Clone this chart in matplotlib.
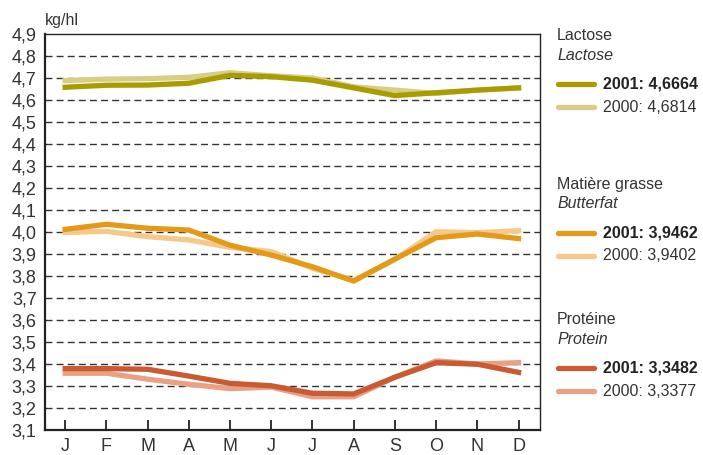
import numpy as np
import matplotlib
matplotlib.use("Agg")
import matplotlib.pyplot as plt
from matplotlib.lines import Line2D

plt.rcParams['font.family'] = ['Liberation Sans', 'DejaVu Sans']

months = ["J", "F", "M", "A", "M", "J", "J", "A", "S", "O", "N", "D"]

lactose_2001 = [4.658, 4.667, 4.668, 4.676, 4.712, 4.706, 4.690, 4.655, 4.620, 4.633, 4.645, 4.655]
lactose_2000 = [4.688, 4.695, 4.697, 4.703, 4.724, 4.710, 4.700, 4.660, 4.645, 4.630, 4.645, 4.655]
fat_2001 = [4.012, 4.035, 4.017, 4.009, 3.940, 3.895, 3.842, 3.777, 3.877, 3.974, 3.991, 3.970]
fat_2000 = [3.998, 4.003, 3.979, 3.964, 3.930, 3.911, 3.835, 3.780, 3.875, 4.001, 3.997, 4.006]
protein_2001 = [3.379, 3.379, 3.376, 3.345, 3.312, 3.301, 3.267, 3.264, 3.340, 3.406, 3.399, 3.362]
protein_2000 = [3.358, 3.358, 3.331, 3.308, 3.288, 3.295, 3.251, 3.251, 3.340, 3.414, 3.400, 3.406]

groups = ["Lactose", "Matière grasse", "Protéine"]
groups_en = ["Lactose", "Butterfat", "Protein"]
label_2001 = ["2001: 4,6664", "2001: 3,9462", "2001: 3,3482"]
label_2000 = ["2000: 4,6814", "2000: 3,9402", "2000: 3,3377"]

col_2001 = ["#a89c00", "#e49a18", "#c95a32"]
col_2000 = ["#d9cc85", "#f5c98a", "#e9a084"]

series_2001 = [lactose_2001, fat_2001, protein_2001]
series_2000 = [lactose_2000, fat_2000, protein_2000]

W, H = 703, 455
fig = plt.figure(figsize=(W / 100, H / 100), dpi=100)
ax = fig.add_axes([45 / W, 1 - 430 / H, 495 / W, 396 / H])

x = np.arange(len(months))
yticks = np.round(np.arange(3.1, 4.91, 0.1), 1)

for yv in yticks[1:-1]:
    ax.axhline(yv, color="#333333", lw=1.0, ls=(0, (5, 3)), zorder=1)

for s00, s01, c00, c01 in zip(series_2000, series_2001, col_2000, col_2001):
    ax.plot(x, s00, color=c00, lw=3.8, solid_joinstyle="round", zorder=2)
    ax.plot(x, s01, color=c01, lw=3.8, solid_joinstyle="round", zorder=3)

ax.set_xlim(-0.49, 11.52)
ax.set_ylim(3.1, 4.9)
ax.set_yticks(yticks)
ax.set_yticklabels([f"{v:.1f}".replace(".", ",") for v in yticks], fontsize=13, color="#333333")
ax.set_xticks(x)
ax.set_xticklabels(months, fontsize=13, color="#333333")
ax.tick_params(axis="y", length=0, pad=6)
ax.tick_params(axis="x", direction="in", length=7, width=1.4, color="#333333", pad=6)
for sp in ax.spines.values():
    sp.set_color("#222222")
    sp.set_linewidth(1.0)
ax.spines["left"].set_linewidth(1.6)
ax.spines["bottom"].set_linewidth(1.6)

fig.text(45 / W, 1 - 20 / H, "kg/hl", fontsize=11.5, color="#333333", va="center", ha="left")

# legend block on the right
tops = [36, 185, 320]
for i in range(3):
    t = tops[i]
    fig.text(557 / W, 1 - t / H, groups[i], fontsize=11.5, color="#333333", va="center")
    fig.text(557 / W, 1 - (t + 19) / H, groups_en[i], fontsize=11.5, color="#333333",
             va="center", style="italic")
    y1 = 1 - (t + 48) / H
    y2 = 1 - (t + 71) / H
    fig.add_artist(Line2D([558 / W, 594 / W], [y1, y1], color=col_2001[i], lw=3.8,
                          solid_capstyle="round", transform=fig.transFigure))
    fig.add_artist(Line2D([558 / W, 594 / W], [y2, y2], color=col_2000[i], lw=3.8,
                          solid_capstyle="round", transform=fig.transFigure))
    fig.text(603 / W, y1, label_2001[i], fontsize=11.5, color="#222222", va="center",
             fontweight="bold")
    fig.text(603 / W, y2, label_2000[i], fontsize=11.5, color="#333333", va="center")

fig.savefig("out.png", dpi=100)
